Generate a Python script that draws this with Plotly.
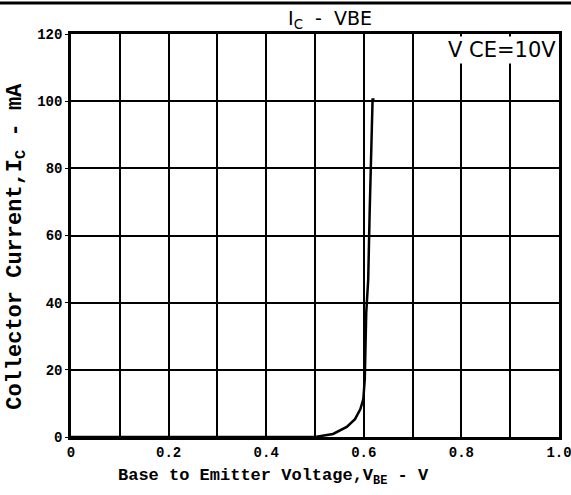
import plotly.graph_objects as go

# Data
vbe = [0.0, 0.5, 0.537, 0.565, 0.582, 0.593, 0.599, 0.602, 0.605, 0.609, 0.612, 0.616, 0.618, 0.622]
ic = [0.0, 0.0, 0.9, 3.0, 5.3, 8.3, 11.3, 17.2, 37.0, 46.8, 66.9, 86.5, 100.5, 100.5]

x_ticks = [0, 0.2, 0.4, 0.6, 0.8, 1.0]
x_ticktext = ["0", "0.2", "0.4", "0.6", "0.8", "1.0"]
y_ticks = [0, 20, 40, 60, 80, 100, 120]

mono = "Liberation Mono, Courier New, monospace"
sans = "DejaVu Sans, sans-serif"
nb = "\u00a0"

fig = go.Figure()
fig.add_trace(go.Scatter(x=vbe, y=ic, mode="lines",
                         line=dict(color="black", width=2.5), showlegend=False))

fig.update_layout(
    width=571, height=495,
    margin=dict(l=71, r=12, t=34, b=58),
    paper_bgcolor="white", plot_bgcolor="white",
    title=dict(text="I<sub>C</sub>" + nb * 2 + "-" + nb * 2 + "VBE", x=0.578, xanchor="center",
               y=0.962, yanchor="middle",
               font=dict(family=sans, size=19, color="black")),
    xaxis=dict(range=[0, 1.0], tickvals=x_ticks, ticktext=x_ticktext, automargin=False,
               ticklabeloverflow="allow",
               showgrid=True, gridcolor="black", gridwidth=2,
               minor=dict(dtick=0.1, showgrid=True, gridcolor="black", gridwidth=2),
               showline=True, linecolor="black", linewidth=2.5, mirror=True,
               ticks="", zeroline=False,
               tickfont=dict(family=mono, size=14, color="black", weight="bold")),
    yaxis=dict(range=[0, 120], tickvals=y_ticks, automargin=False,
               showgrid=True, gridcolor="black", gridwidth=1.5,
               showline=True, linecolor="black", linewidth=2.5, mirror=True,
               ticks="outside", ticklen=3, tickcolor="black", zeroline=False,
               tickfont=dict(family=mono, size=14, color="black", weight="bold")),
)

# axis titles as annotations for exact placement
fig.add_annotation(x=0.414, y=-0.1, xref="paper", yref="paper", xanchor="center", yanchor="middle",
                   text="Base to Emitter Voltage,V<sub>BE</sub> - V", showarrow=False,
                   font=dict(family=mono, size=17, color="black", weight="bold"))
fig.add_annotation(x=-0.111, y=0.474, xref="paper", yref="paper", xanchor="center", yanchor="middle",
                   text="Collector Current,I<sub>C</sub> - mA", showarrow=False, textangle=-90,
                   font=dict(family=mono, size=22, color="black", weight="bold"))

fig.add_annotation(x=0.997, y=0.996, xref="paper", yref="paper", xanchor="right", yanchor="top",
                   text="V" + nb + "CE=10V", showarrow=False, bgcolor="white",
                   font=dict(family=sans, size=21, color="black"))

fig.add_shape(type="line", xref="paper", yref="paper", x0=-0.2, x1=1.1, y0=1.077, y1=1.077,
              line=dict(color="black", width=3))

fig.write_html("out.html", config={"displayModeBar": False},
               post_script="document.body.style.margin='0';")
